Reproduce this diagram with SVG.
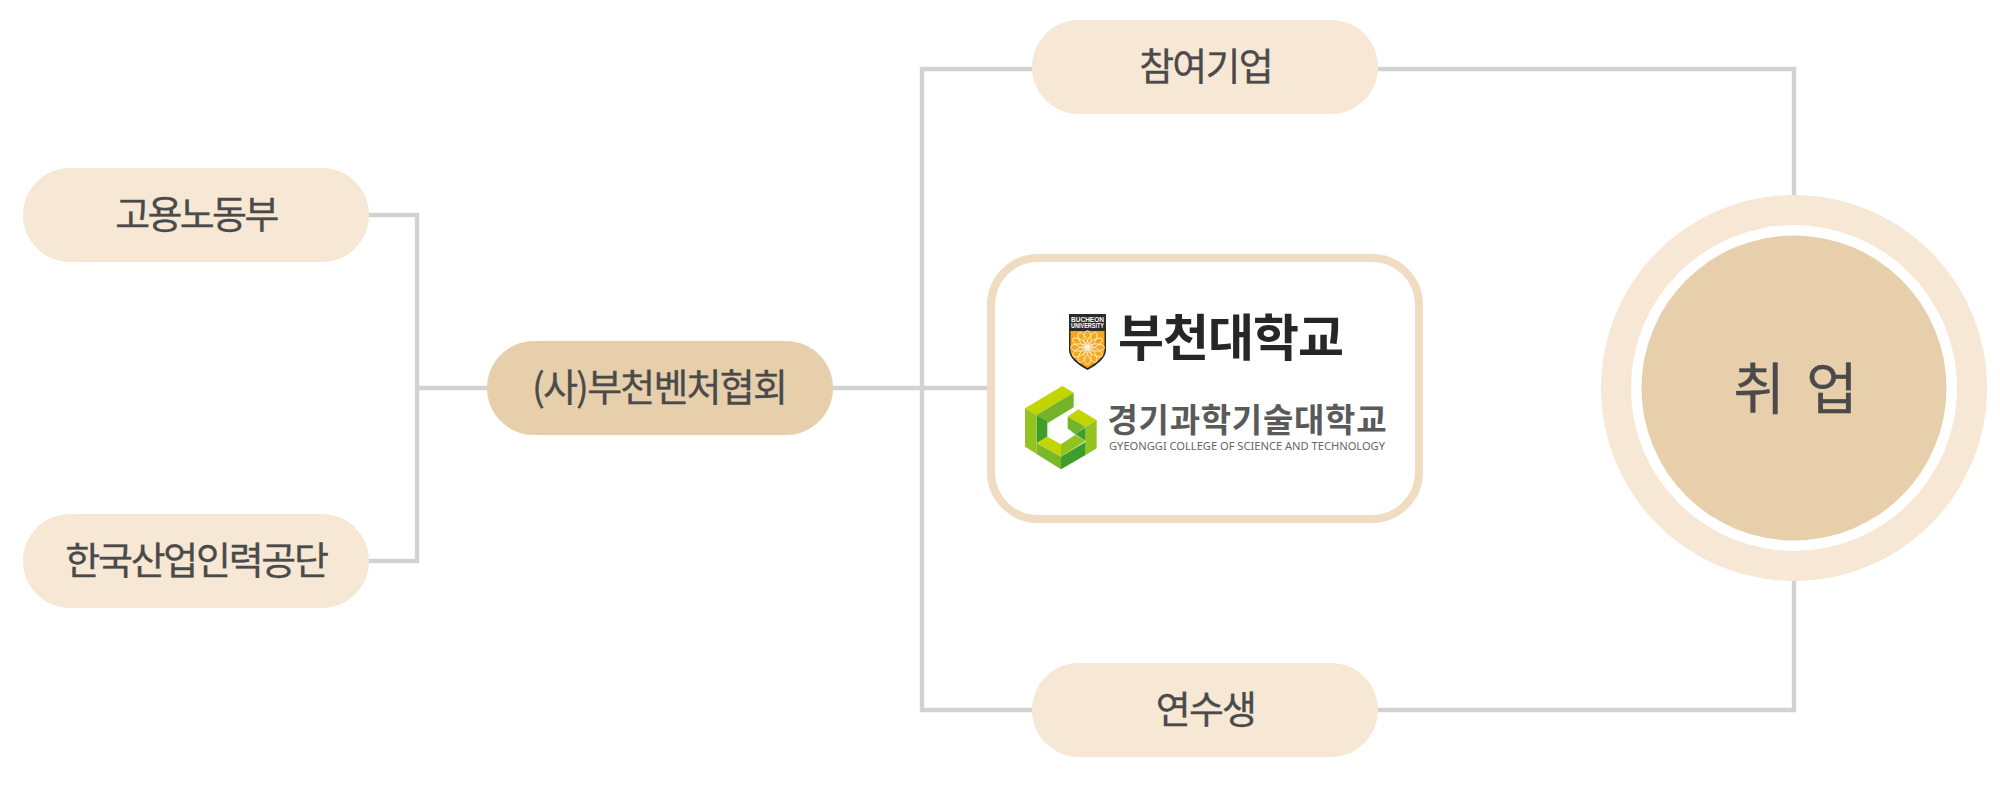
<svg xmlns="http://www.w3.org/2000/svg" width="2000" height="794" viewBox="0 0 2000 794">
<style>
.pale{fill:#f6e8d5}
.tan{fill:#e7cfac}
.lbl{font-family:"Noto Sans CJK KR","Noto Sans",sans-serif;font-weight:400;fill:#4a4a4a;stroke:#4a4a4a;stroke-width:.3;font-size:38px;text-anchor:middle;letter-spacing:-1.800px}
.conn{fill:none;stroke:#d2d2d2;stroke-width:4.400}
.pt{fill:none;stroke:#fff3d8;stroke-width:.8}
</style>
<defs>
<ellipse id="pet" cx="0" cy="-8.500" rx="3.600" ry="8.500" class="pt"/>
</defs>
<rect width="2000" height="794" fill="#fff"/>
<g id="connectors">
<path class="conn" d="M369 215H417V561H369"/>
<path class="conn" d="M417 388H487"/>
<path class="conn" d="M833 388H987"/>
<path class="conn" d="M1032 69H922V710H1032"/>
<path class="conn" d="M1378 69H1794V195"/>
<path class="conn" d="M1378 710H1794V581"/>
</g>
<g id="node-moel"><rect class="pale" x="23" y="168" width="346" height="94" rx="47"/><text class="lbl" x="196" y="228" style="letter-spacing:-2.700px">고용노동부</text></g>
<g id="node-hrd"><rect class="pale" x="23" y="514" width="346" height="94" rx="47"/><text class="lbl" x="196" y="574" style="letter-spacing:-2.300px">한국산업인력공단</text></g>
<g id="node-association"><rect class="tan" x="487" y="341" width="346" height="94" rx="47"/><text class="lbl" x="659" y="401">(사)부천벤처협회</text></g>
<g id="node-company"><rect class="pale" x="1032" y="20" width="346" height="94" rx="47"/><text class="lbl" x="1205.500" y="80">참여기업</text></g>
<g id="node-trainee"><rect class="pale" x="1032" y="663" width="346" height="94" rx="47"/><text class="lbl" x="1205.500" y="723">연수생</text></g>
<g id="node-universities">
<rect x="991" y="258" width="428" height="261" rx="47" fill="#fff" stroke="#f0dcc0" stroke-width="8"/>
<g id="logo-bucheon">
<path d="M1069 314H1106V350C1106 358 1097 365 1087.500 370C1078 365 1069 358 1069 350Z" fill="#2a2a2a"/>
<path d="M1070.500 331H1104.500V350C1104.500 357 1096 363 1087.500 368C1079 363 1070.500 357 1070.500 350Z" fill="#f9a71a"/>
<g transform="translate(1087.500 347.500)">
<use href="#pet"/><use href="#pet" transform="rotate(30)"/><use href="#pet" transform="rotate(60)"/><use href="#pet" transform="rotate(90)"/><use href="#pet" transform="rotate(120)"/><use href="#pet" transform="rotate(150)"/><use href="#pet" transform="rotate(180)"/><use href="#pet" transform="rotate(210)"/><use href="#pet" transform="rotate(240)"/><use href="#pet" transform="rotate(270)"/><use href="#pet" transform="rotate(300)"/><use href="#pet" transform="rotate(330)"/>
</g>
<text x="1087.500" y="321.500" font-family="'Liberation Sans',sans-serif" font-size="6.500" font-weight="700" fill="#fff" text-anchor="middle" textLength="33" lengthAdjust="spacingAndGlyphs">BUCHEON</text>
<text x="1087.500" y="328" font-family="'Liberation Sans',sans-serif" font-size="6.500" font-weight="700" fill="#fff" text-anchor="middle" textLength="33" lengthAdjust="spacingAndGlyphs">UNIVERSITY</text>
<text x="1231" y="356" font-family="'Noto Sans CJK KR',sans-serif" font-size="50px" font-weight="700" fill="#262626" text-anchor="middle" textLength="226" lengthAdjust="spacing">부천대학교</text>
</g>
<g id="logo-gyeonggi">
<g transform="translate(1015 375) scale(.3333)">
<polygon points="30,100 142,33 176,53 65,120" fill="#c3d500"/>
<polygon points="65,120 176,53 176,97 97,145 97,138" fill="#72b32a"/>
<polygon points="65,120 97,138 97,185 65,205" fill="#3e9e2a"/>
<polygon points="30,100 65,120 65,235 30,215" fill="#92c320"/>
<polygon points="65,205 97,185 138,208 138,245" fill="#c3d500"/>
<polygon points="65,205 138,245 138,283 30,215 65,235" fill="#7ab82a"/>
<polygon points="138,208 180,180 212,197 138,245" fill="#92c320"/>
<polygon points="138,245 212,200 212,240 138,283" fill="#3e9e2a"/>
<polygon points="158,125 190,103 245,135 212,155" fill="#c3d500"/>
<polygon points="158,125 212,155 180,178 158,160" fill="#72b32a"/>
<polygon points="180,178 212,157 212,197" fill="#3e9e2a"/>
<polygon points="212,155 245,135 245,220 212,240" fill="#92c320"/>
</g>
<text x="1247" y="432" font-family="'Noto Sans CJK KR',sans-serif" font-size="33px" font-weight="700" fill="#5a5a5a" text-anchor="middle" textLength="279" lengthAdjust="spacing">경기과학기술대학교</text>
<text x="1247" y="450" font-family="'Noto Sans','Liberation Sans',sans-serif" font-size="11.500px" fill="#666" text-anchor="middle" textLength="276" lengthAdjust="spacingAndGlyphs">GYEONGGI COLLEGE OF SCIENCE AND TECHNOLOGY</text>
</g>
</g>
<g id="node-employment">
<circle class="pale" cx="1794" cy="388" r="193"/>
<circle cx="1794" cy="388" r="163" fill="#fff"/>
<circle class="tan" cx="1794" cy="388" r="152.500"/>
<text class="lbl" x="1794" y="409" style="font-size:56px;letter-spacing:0"><tspan x="1759">취</tspan><tspan x="1832">업</tspan></text>
</g>
</svg>
